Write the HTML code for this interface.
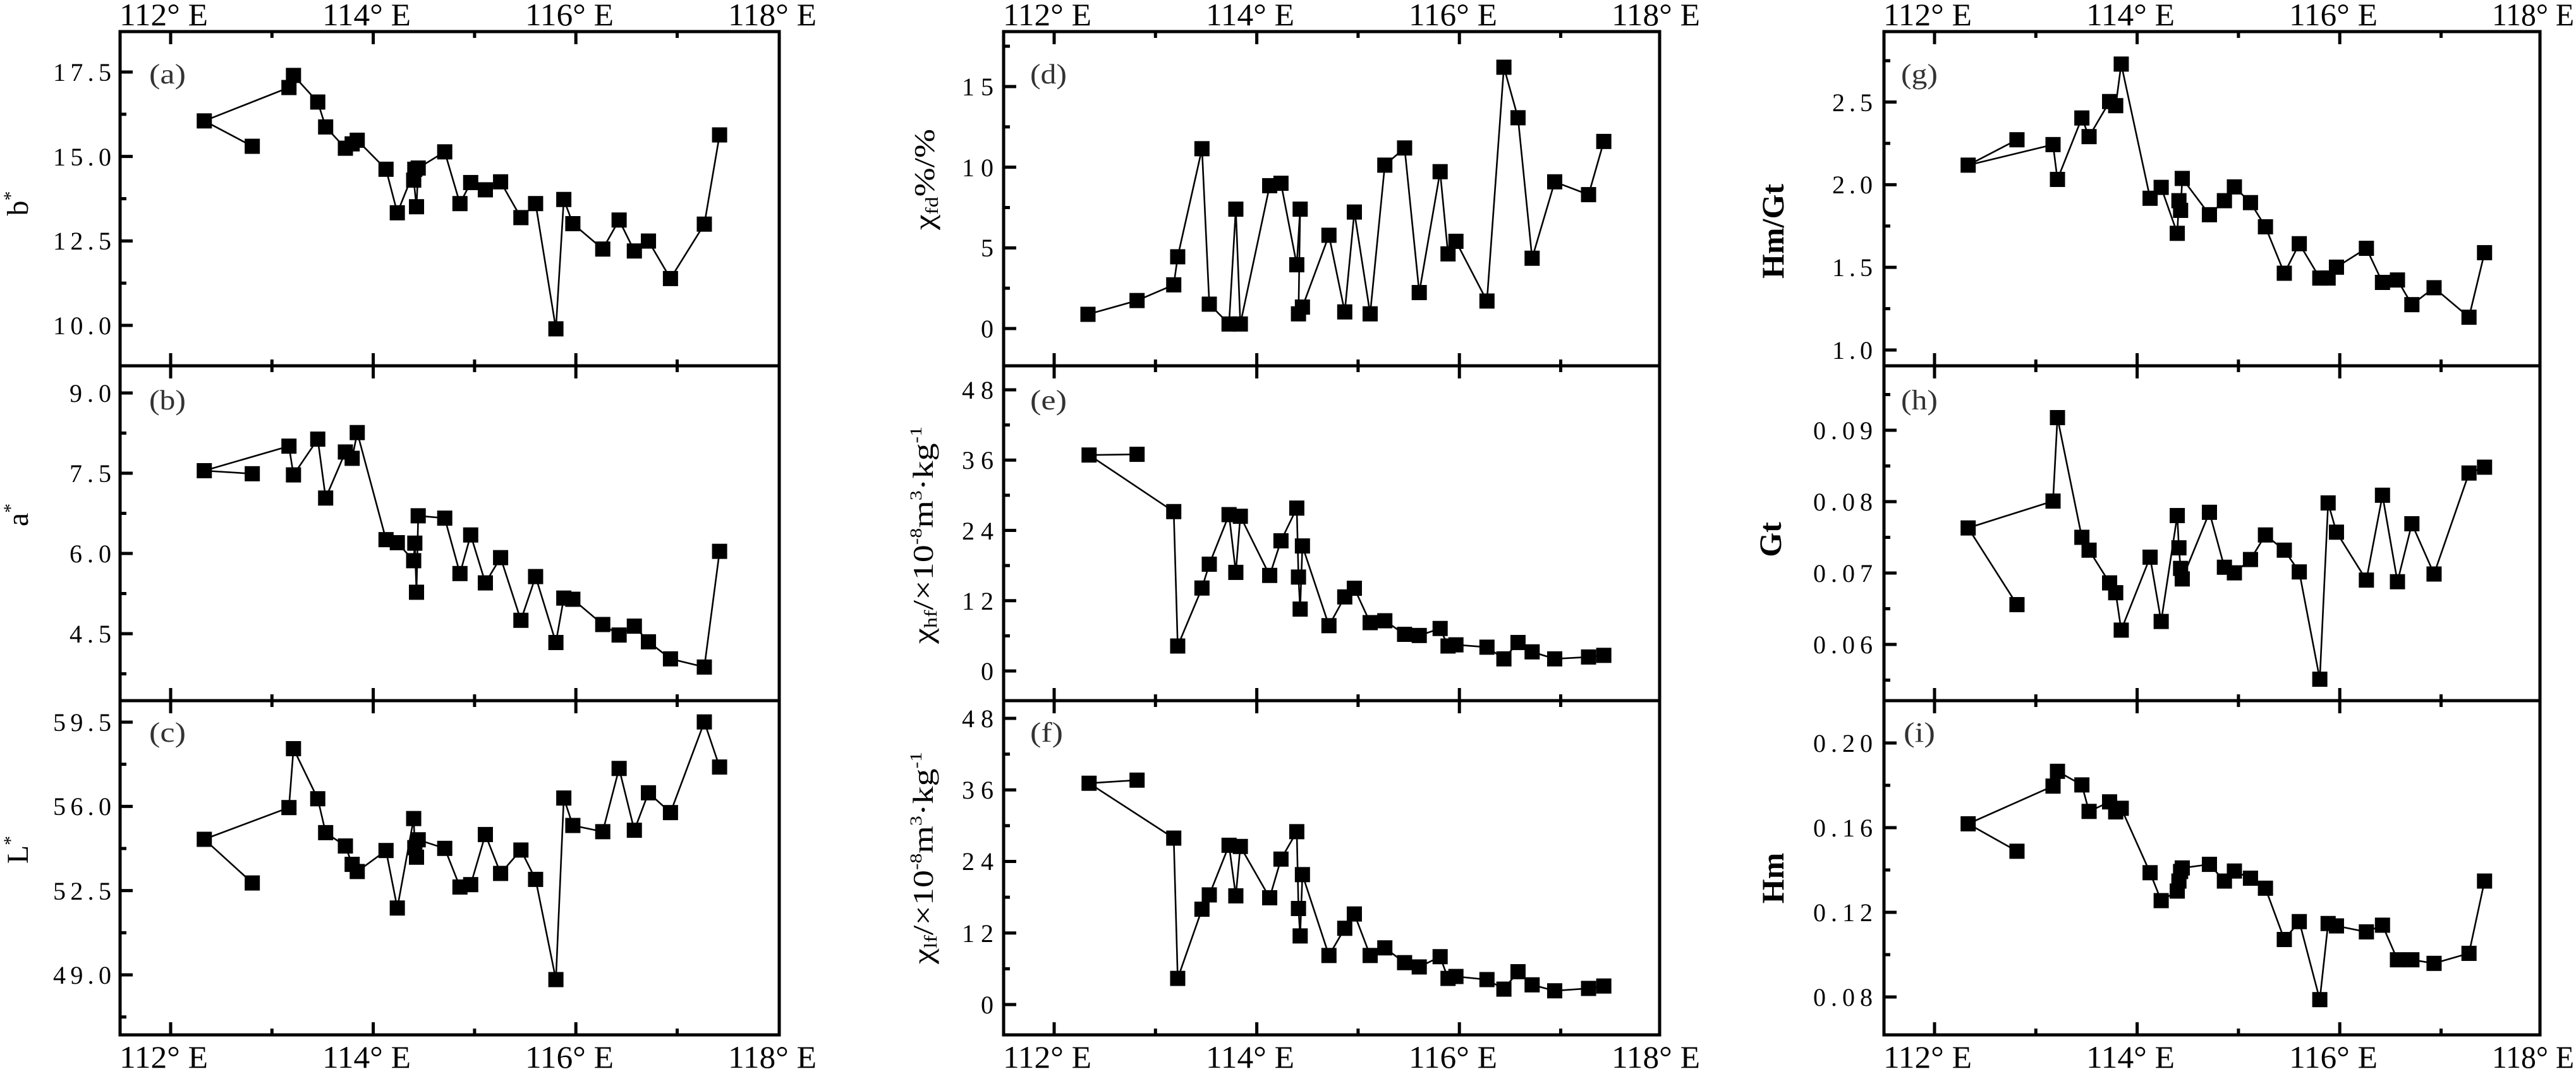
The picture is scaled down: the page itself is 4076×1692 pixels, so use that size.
<!DOCTYPE html>
<html><head><meta charset="utf-8"><style>
html,body{margin:0;padding:0;background:#fff;}
svg{display:block;}
text{font-family:"Liberation Serif",serif;fill:#000;}
</style></head><body>
<svg id="s" xmlns="http://www.w3.org/2000/svg" width="4076" height="1692" viewBox="0 0 4076 1692" font-family="Liberation Serif, serif">
<rect width="4076" height="1692" fill="#fff"/>
<g id="frames" fill="none" stroke="#000" stroke-width="5"></g>
<g id="ticks" stroke="#000" stroke-width="5"></g>
<g id="data"></g>
<!-- top x labels -->
<g font-size="50">
<text x="259" y="40" text-anchor="middle" textLength="140" lengthAdjust="spacingAndGlyphs">112° E</text>
<text x="580" y="40" text-anchor="middle" textLength="140" lengthAdjust="spacingAndGlyphs">114° E</text>
<text x="901" y="40" text-anchor="middle" textLength="140" lengthAdjust="spacingAndGlyphs">116° E</text>
<text x="1222" y="40" text-anchor="middle" textLength="140" lengthAdjust="spacingAndGlyphs">118° E</text>
<text x="1657" y="40" text-anchor="middle" textLength="140" lengthAdjust="spacingAndGlyphs">112° E</text>
<text x="1978" y="40" text-anchor="middle" textLength="140" lengthAdjust="spacingAndGlyphs">114° E</text>
<text x="2299" y="40" text-anchor="middle" textLength="140" lengthAdjust="spacingAndGlyphs">116° E</text>
<text x="2620" y="40" text-anchor="middle" textLength="140" lengthAdjust="spacingAndGlyphs">118° E</text>
<text x="3050" y="40" text-anchor="middle" textLength="140" lengthAdjust="spacingAndGlyphs">112° E</text>
<text x="3371" y="40" text-anchor="middle" textLength="140" lengthAdjust="spacingAndGlyphs">114° E</text>
<text x="3692" y="40" text-anchor="middle" textLength="140" lengthAdjust="spacingAndGlyphs">116° E</text>
<text x="4008" y="40" text-anchor="middle" textLength="130" lengthAdjust="spacingAndGlyphs">118° E</text>
<!-- bottom -->
<text x="259" y="1690" text-anchor="middle" textLength="140" lengthAdjust="spacingAndGlyphs">112° E</text>
<text x="580" y="1690" text-anchor="middle" textLength="140" lengthAdjust="spacingAndGlyphs">114° E</text>
<text x="901" y="1690" text-anchor="middle" textLength="140" lengthAdjust="spacingAndGlyphs">116° E</text>
<text x="1222" y="1690" text-anchor="middle" textLength="140" lengthAdjust="spacingAndGlyphs">118° E</text>
<text x="1657" y="1690" text-anchor="middle" textLength="140" lengthAdjust="spacingAndGlyphs">112° E</text>
<text x="1978" y="1690" text-anchor="middle" textLength="140" lengthAdjust="spacingAndGlyphs">114° E</text>
<text x="2299" y="1690" text-anchor="middle" textLength="140" lengthAdjust="spacingAndGlyphs">116° E</text>
<text x="2620" y="1690" text-anchor="middle" textLength="140" lengthAdjust="spacingAndGlyphs">118° E</text>
<text x="3050" y="1690" text-anchor="middle" textLength="140" lengthAdjust="spacingAndGlyphs">112° E</text>
<text x="3371" y="1690" text-anchor="middle" textLength="140" lengthAdjust="spacingAndGlyphs">114° E</text>
<text x="3692" y="1690" text-anchor="middle" textLength="140" lengthAdjust="spacingAndGlyphs">116° E</text>
<text x="4008" y="1690" text-anchor="middle" textLength="130" lengthAdjust="spacingAndGlyphs">118° E</text>
</g>
<!-- y tick labels -->
<g font-size="40" text-anchor="end" lengthAdjust="spacingAndGlyphs">
<text x="176" y="128" textLength="92">17.5</text>
<text x="176" y="262" textLength="92">15.0</text>
<text x="176" y="395" textLength="92">12.5</text>
<text x="176" y="529" textLength="92">10.0</text>
<text x="176" y="636" textLength="66">9.0</text>
<text x="176" y="763" textLength="66">7.5</text>
<text x="176" y="890" textLength="66">6.0</text>
<text x="176" y="1017" textLength="66">4.5</text>
<text x="176" y="1157" textLength="92">59.5</text>
<text x="176" y="1290" textLength="92">56.0</text>
<text x="176" y="1424" textLength="92">52.5</text>
<text x="176" y="1557" textLength="92">49.0</text>
<text x="1572" y="151" textLength="50">15</text>
<text x="1572" y="279" textLength="50">10</text>
<text x="1572" y="406" textLength="26">5</text>
<text x="1572" y="534" textLength="26">0</text>
<text x="1572" y="631" textLength="50">48</text>
<text x="1572" y="742" textLength="50">36</text>
<text x="1572" y="854" textLength="50">24</text>
<text x="1572" y="965" textLength="50">12</text>
<text x="1572" y="1076" textLength="26">0</text>
<text x="1572" y="1151" textLength="50">48</text>
<text x="1572" y="1264" textLength="50">36</text>
<text x="1572" y="1377" textLength="50">24</text>
<text x="1572" y="1491" textLength="50">12</text>
<text x="1572" y="1604" textLength="26">0</text>
<text x="2963" y="176" textLength="64">2.5</text>
<text x="2963" y="306" textLength="64">2.0</text>
<text x="2963" y="437" textLength="64">1.5</text>
<text x="2963" y="568" textLength="64">1.0</text>
<text x="2963" y="695" textLength="94">0.09</text>
<text x="2963" y="808" textLength="94">0.08</text>
<text x="2963" y="921" textLength="94">0.07</text>
<text x="2963" y="1034" textLength="94">0.06</text>
<text x="2963" y="1190" textLength="94">0.20</text>
<text x="2963" y="1324" textLength="94">0.16</text>
<text x="2963" y="1458" textLength="94">0.12</text>
<text x="2963" y="1592" textLength="94">0.08</text>
</g>
<!-- panel letters -->
<g font-size="44">
<text x="236" y="132" textLength="58" lengthAdjust="spacingAndGlyphs" style="fill:#333">(a)</text>
<text x="236" y="648" textLength="58" lengthAdjust="spacingAndGlyphs" style="fill:#333">(b)</text>
<text x="236" y="1174" textLength="58" lengthAdjust="spacingAndGlyphs" style="fill:#333">(c)</text>
<text x="1630" y="132" textLength="58" lengthAdjust="spacingAndGlyphs" style="fill:#333">(d)</text>
<text x="1630" y="648" textLength="58" lengthAdjust="spacingAndGlyphs" style="fill:#333">(e)</text>
<text x="1630" y="1174" textLength="52" lengthAdjust="spacingAndGlyphs" style="fill:#333">(f)</text>
<text x="3008" y="132" textLength="58" lengthAdjust="spacingAndGlyphs" style="fill:#333">(g)</text>
<text x="3008" y="648" textLength="58" lengthAdjust="spacingAndGlyphs" style="fill:#333">(h)</text>
<text x="3012" y="1174" textLength="50" lengthAdjust="spacingAndGlyphs" style="fill:#333">(i)</text>
</g>
<!-- axis titles -->
<g font-size="48">
<text transform="translate(44,322) rotate(-90)" text-anchor="middle">b<tspan font-size="30" dy="-18">*</tspan></text>
<text transform="translate(44,815) rotate(-90)" text-anchor="middle">a<tspan font-size="30" dy="-18">*</tspan></text>
<text transform="translate(44,1345) rotate(-90)" text-anchor="middle">L<tspan font-size="30" dy="-18">*</tspan></text>
</g>
<g font-size="46">
<text transform="translate(1478,284) rotate(-90)" text-anchor="middle" textLength="160" lengthAdjust="spacingAndGlyphs">χ<tspan font-size="28" dy="6">fd</tspan><tspan dy="-6">%/%</tspan></text>
<text transform="translate(1476,847) rotate(-90)" text-anchor="middle" textLength="344" lengthAdjust="spacingAndGlyphs">χ<tspan font-size="28" dy="6">hf</tspan><tspan dy="-6">/×10</tspan><tspan font-size="26" dy="-18">-8</tspan><tspan dy="18">m</tspan><tspan font-size="26" dy="-18">3</tspan><tspan dy="18">·kg</tspan><tspan font-size="26" dy="-18">-1</tspan></text>
<text transform="translate(1476,1358) rotate(-90)" text-anchor="middle" textLength="336" lengthAdjust="spacingAndGlyphs">χ<tspan font-size="28" dy="6">lf</tspan><tspan dy="-6">/×10</tspan><tspan font-size="26" dy="-18">-8</tspan><tspan dy="18">m</tspan><tspan font-size="26" dy="-18">3</tspan><tspan dy="18">·kg</tspan><tspan font-size="26" dy="-18">-1</tspan></text>
</g>
<g font-size="50" font-weight="bold">
<text transform="translate(2822,366) rotate(-90)" text-anchor="middle" textLength="150" lengthAdjust="spacingAndGlyphs">Hm/Gt</text>
<text transform="translate(2818,854) rotate(-90)" text-anchor="middle">Gt</text>
<text transform="translate(2822,1390) rotate(-90)" text-anchor="middle">Hm</text>
</g>
</svg>
<script>
(function(){
var NS="http://www.w3.org/2000/svg";
function el(p,n,a){var e=document.createElementNS(NS,n);for(var k in a)e.setAttribute(k,a[k]);p.appendChild(e);return e;}
var fr=document.getElementById('frames'),tk=document.getElementById('ticks'),dg=document.getElementById('data');
var cols=[190,1588,2981],W=[1043,1038,1038];
var rows=[[50,579],[579,1109],[1109,1638]];
var P=[
[0,0,17.5,114,10,515,2.5],[0,1,9,622,4.5,1003,1.5],[0,2,59.5,1143,49,1543,3.5],
[1,0,15,137,0,520,5],[1,1,48,617,0,1062,12],[1,2,48,1137,0,1590,12],
[2,0,2.5,161.5,1,554,0.5],[2,1,0.09,681,0.06,1020,0.01],[2,2,0.2,1176,0.08,1578,0.04]];
for(var c=0;c<3;c++){
 var L=cols[c],R=L+W[c];
 el(fr,'rect',{x:L,y:50,width:W[c],height:1588});
 el(fr,'line',{x1:L,y1:579,x2:R,y2:579});
 el(fr,'line',{x1:L,y1:1109,x2:R,y2:1109});
 for(var r=0;r<3;r++){
  var t=rows[r][0],b=rows[r][1];
  for(var d=112;d<=117;d++){
   var x=L+80+(d-112)*160.3, len=(d%2==0)?20:10;
   el(tk,'line',{x1:x,y1:t,x2:x,y2:t+len});
   el(tk,'line',{x1:x,y1:b,x2:x,y2:b-len});
  }
 }
}
P.forEach(function(p){
 var L=cols[p[0]],t=rows[p[1]][0],b=rows[p[1]][1];
 var v1=p[2],y1=p[3],v2=p[4],y2=p[5],st=p[6];
 var pps=(y2-y1)/(v1-v2)*st;
 var half=pps/2;
 for(var k=-4;k<=12;k++){
  var y=y1+k*half; if(y<=t+6||y>=b-6)continue;
  var len=(k%2==0)?20:10;
  el(tk,'line',{x1:L,y1:y,x2:L+len,y2:y});
 }
});
var D=[
[0,0,0.893,0.3827,[447,605,362,500,512,362,520,312,563,422,577,525,612,613,624,595,633,580,684,700,704,880,735,700,733,745,738,855,741,695,788,628,815,842,834,755,860,785,887,752,923,900,949,842,985,1360,999,825,1015,925,1068,1030,1097,910,1124,1038,1149,997,1188,1152,1248,927,1275,558]],
[0,560,0.893,0.37,[447,513,362,500,512,395,520,518,563,365,577,617,612,420,624,447,633,337,684,795,704,808,733,885,735,810,738,1020,741,693,788,703,815,940,834,775,860,980,887,872,923,1140,949,953,985,1235,999,1045,1015,1050,1068,1158,1097,1203,1124,1165,1149,1232,1188,1305,1248,1340,1275,845]],
[0,1100,0.893,0.3776,[447,788,362,605,512,472,520,225,563,435,577,577,612,633,624,710,633,740,684,652,704,893,733,518,735,640,738,680,741,607,788,643,815,805,834,795,860,585,887,748,923,650,949,773,985,1193,999,432,1015,547,1068,573,1097,308,1124,567,1149,410,1188,493,1248,113,1275,302]],
[1400,0,0.893,0.3827,[360,1300,447,1243,512,1178,519,1062,562,615,575,1258,610,1340,622,865,630,1340,682,768,702,758,730,1095,736,865,733,1298,740,1270,787,973,815,1290,832,877,860,1298,886,683,921,612,947,1210,984,710,998,1050,1012,998,1067,1245,1097,278,1122,487,1147,1068,1187,752,1247,805,1274,585]],
[1400,560,0.893,0.37,[447,430,362,433,512,675,519,1250,562,1002,575,900,610,688,622,935,630,695,682,948,702,800,730,660,733,955,736,1092,740,822,787,1163,815,1040,832,1003,860,1150,886,1142,921,1200,947,1205,984,1175,998,1250,1012,1245,1067,1255,1097,1305,1122,1235,1147,1275,1187,1305,1247,1297,1274,1290]],
[1400,1100,0.893,0.3776,[447,357,362,370,512,600,519,1188,562,898,575,838,610,630,622,842,630,635,682,850,702,688,730,573,733,895,736,1010,740,753,787,1092,815,978,832,918,860,1092,886,1060,921,1122,947,1140,984,1097,998,1188,1012,1180,1067,1193,1097,1233,1122,1160,1147,1215,1187,1240,1247,1230,1274,1220]],
[2700,0,0.8776,0.3827,[560,578,472,683,625,598,633,742,677,488,690,565,727,420,738,437,748,265,800,820,820,775,849,965,852,830,855,870,858,738,907,888,934,830,952,773,981,838,1008,938,1042,1130,1069,1008,1106,1150,1121,1150,1136,1105,1190,1027,1219,1168,1246,1158,1272,1260,1312,1190,1375,1312,1403,1045]],
[2700,560,0.8776,0.37,[560,1073,472,745,625,630,633,273,677,785,690,840,727,980,738,1022,748,1182,800,870,820,1145,849,692,852,830,855,918,858,963,907,678,934,913,952,937,981,880,1008,775,1042,840,1069,933,1106,1392,1121,638,1136,763,1190,968,1219,605,1246,975,1272,727,1312,942,1375,510,1403,485]],
[2700,1100,0.8776,0.3776,[560,655,472,540,625,382,633,320,677,377,690,488,727,448,738,490,748,475,800,745,820,862,849,822,852,780,855,740,858,725,907,710,934,780,952,738,981,768,1008,810,1042,1025,1069,950,1106,1277,1121,958,1136,968,1190,993,1219,965,1246,1110,1272,1110,1312,1125,1375,1083,1403,780]]
];
D.forEach(function(d){
 var pts=[],a=d[4];
 for(var i=0;i<a.length;i+=2)pts.push([d[0]+a[i]*d[2],d[1]+a[i+1]*d[3]]);
 el(dg,'polyline',{points:pts.map(function(q){return q[0].toFixed(1)+','+q[1].toFixed(1)}).join(' '),fill:'none',stroke:'#000','stroke-width':2.6});
 pts.forEach(function(q){el(dg,'rect',{x:q[0]-12,y:q[1]-12,width:24,height:24,fill:'#000'});});
});
})();
</script>
</body></html>
